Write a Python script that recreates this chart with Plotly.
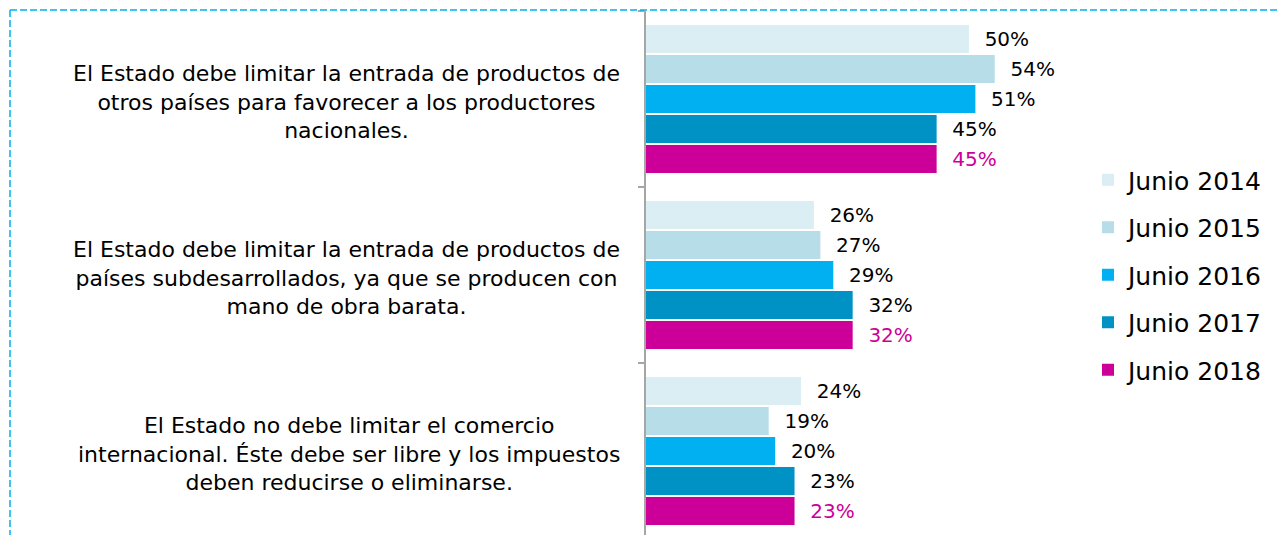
import plotly.graph_objs as go

# data
statements = [
    'El Estado debe limitar la entrada de productos de<br>otros países para favorecer a los productores<br>nacionales.',
    'El Estado debe limitar la entrada de productos de<br>países subdesarrollados, ya que se producen con<br>mano de obra barata.',
    'El Estado no debe limitar el comercio<br>internacional. Éste debe ser libre y los impuestos<br>deben reducirse o eliminarse.',
]
series_names = ['Junio 2014', 'Junio 2015', 'Junio 2016', 'Junio 2017', 'Junio 2018']
junio_2014 = [50, 26, 24]
junio_2015 = [54, 27, 19]
junio_2016 = [51, 29, 20]
junio_2017 = [45, 32, 23]
junio_2018 = [45, 32, 23]
series_values = [junio_2014, junio_2015, junio_2016, junio_2017, junio_2018]

bar_colors = ['#DAEEF3', '#B7DEE8', '#00B0F0', '#0092C4', '#CC0099']
text_colors = ['#000000', '#000000', '#000000', '#000000', '#CC0099']

# the page body has an 8px margin, so work in screen pixels and shift
OFF = 8
W, H = 1287 - OFF, 535 - OFF
M_L, M_R, M_T, M_B = 646 - OFF, 207, 11 - OFF, 0
FONT = 'DejaVu Sans'
FRAME = '#00B0F0'


def px_to_paper(px, py):
    # screen pixel -> paper coordinates
    px, py = px - OFF, py - OFF
    pw = W - M_L - M_R
    ph = H - M_T - M_B
    return (px - M_L) / pw, (H - M_B - py) / ph


cats = ['c0', 'c1', 'c2']

data = []
for name, vals, col, tcol in zip(series_names, series_values, bar_colors, text_colors):
    data.append(go.Bar(
        name=name,
        y=cats,
        x=vals,
        orientation='h',
        marker=dict(color=col, line=dict(color='white', width=0)),
        text=['\u00a0\u00a0{}%'.format(v) for v in vals],
        textposition='outside',
        textfont=dict(family=FONT, size=20, color=tcol),
        constraintext='none',
        cliponaxis=False,
        legendgroup=name,
        hoverinfo='x+name',
    ))

annotations = []
for c, label in zip(cats, statements):
    annotations.append(dict(
        x=0, xref='paper', y=c, yref='y',
        xanchor='right', xshift=-24, yshift=-3,
        text=label, align='center', showarrow=False,
        font=dict(family=FONT, size=22, color='#000000'),
    ))

# dashed frame (top and left edges, rest cut off in the reference)
x0, y0 = px_to_paper(10, 10)
x1, _ = px_to_paper(1300, 10)
_, y1 = px_to_paper(10, 545)
shapes = [
    dict(type='line', xref='paper', yref='paper', x0=x0, x1=x1, y0=y0, y1=y0,
         line=dict(color=FRAME, width=1.5, dash='7px,3px')),
    dict(type='line', xref='paper', yref='paper', x0=x0, x1=x0, y0=y0, y1=y1,
         line=dict(color=FRAME, width=1.5, dash='7px,3px')),
]

leg_x, leg_y = px_to_paper(1088, 275)

layout = go.Layout(
    width=W, height=H,
    paper_bgcolor='white', plot_bgcolor='white',
    margin=dict(l=M_L, r=M_R, t=M_T, b=M_B, pad=0),
    barmode='group', bargap=0.148, bargroupgap=0.07,
    font=dict(family=FONT, color='#000000'),
    xaxis=dict(range=[0, 67.2], showgrid=False, zeroline=False,
               showticklabels=False, showline=False, fixedrange=True),
    yaxis=dict(type='category', categoryarray=cats,
               range=[2.477, -0.5], showgrid=False, zeroline=False,
               showticklabels=False, showline=True, linecolor='#A6A6A6',
               linewidth=1.5, ticks='outside', tickson='boundaries',
               ticklen=6, tickcolor='#A6A6A6', tickwidth=1.5),
    legend=dict(x=leg_x, y=leg_y, xanchor='left', yanchor='middle',
                font=dict(family=FONT, size=25, color='#000000'),
                tracegroupgap=12, traceorder='grouped',
                bgcolor='rgba(0,0,0,0)'),
    showlegend=True,
    annotations=annotations,
    shapes=shapes,
)

fig = go.Figure(data=data, layout=layout)
fig.write_html('out.html')
